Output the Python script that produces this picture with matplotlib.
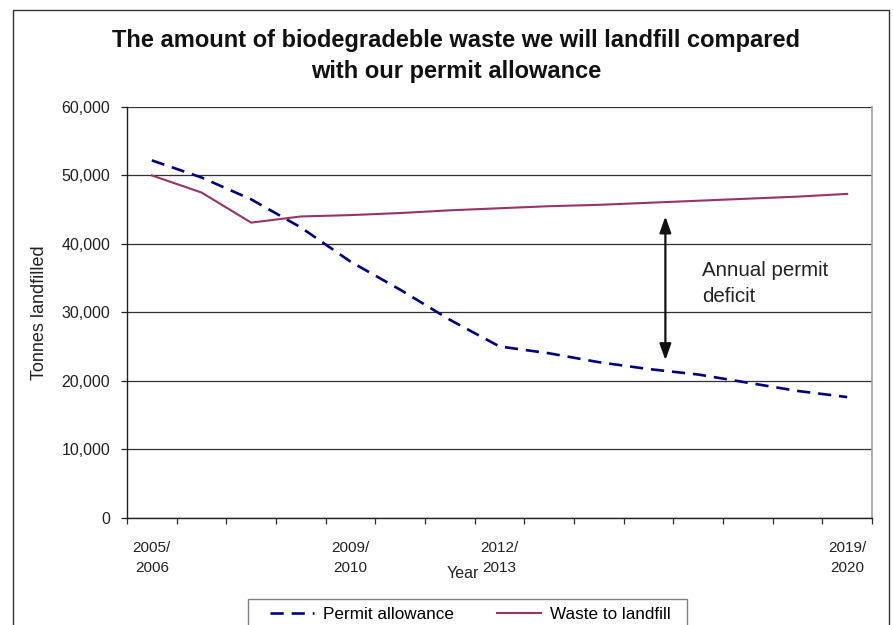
import matplotlib.pyplot as plt
from matplotlib.patches import Rectangle
from matplotlib.ticker import FuncFormatter

plt.rcParams['font.family'] = ['Liberation Sans', 'DejaVu Sans']

# yearly figures, 2005/06 .. 2019/20
years = ["2005/\n2006", "2006/\n2007", "2007/\n2008", "2008/\n2009", "2009/\n2010",
         "2010/\n2011", "2011/\n2012", "2012/\n2013", "2013/\n2014", "2014/\n2015",
         "2015/\n2016", "2016/\n2017", "2017/\n2018", "2018/\n2019", "2019/\n2020"]
labelled_years = [0, 4, 7, 14]

permit_allowance = [52200, 49700, 46500, 42400, 37400, 33300, 28900, 25000,
                    24000, 22700, 21700, 20900, 19700, 18500, 17600]
waste_to_landfill = [50000, 47500, 43100, 44000, 44200, 44500, 44900, 45200,
                     45500, 45700, 46000, 46300, 46600, 46900, 47300]

deficit_top = 44000
deficit_bottom = 23000

fig = plt.figure(figsize=(8.93, 6.25), dpi=100)
ax = fig.add_axes([127 / 893, 1 - 517.5 / 625, 745 / 893, 410.5 / 625])

x = list(range(len(years)))
ax.plot(x, permit_allowance, color="#000080", lw=1.9, linestyle=(0, (5, 3)),
        label="Permit allowance", zorder=3)
ax.plot(x, waste_to_landfill, color="#993366", lw=1.5,
        label="Waste to landfill", zorder=3)

ax.set_xlim(-0.5, len(years) - 0.5)
ax.set_ylim(0, 60000)
ax.set_yticks(range(0, 60001, 10000))
ax.yaxis.set_major_formatter(FuncFormatter(lambda v, p: f"{int(v):,}"))
ax.grid(axis="y", color="#303030", lw=0.9)
ax.set_axisbelow(True)

ax.set_xticks(labelled_years)
ax.set_xticklabels([years[i] for i in labelled_years], linespacing=1.5)
ax.set_xticks([i - 0.5 for i in range(len(years) + 1)], minor=True)
ax.tick_params(axis="x", which="major", length=0, pad=17, labelsize=11, colors="#222222")
ax.tick_params(axis="x", which="minor", length=4, width=0.9, color="#303030")
ax.tick_params(axis="y", length=4, width=0.9, pad=8, labelsize=11.5,
               colors="#222222")

for side in ["left", "bottom"]:
    ax.spines[side].set_color("#202020")
    ax.spines[side].set_linewidth(1.0)
ax.spines["top"].set_visible(False)
ax.spines["right"].set_color("#a0a0a0")
ax.spines["right"].set_linewidth(1.2)

# the gap between what we landfill and what the permit allows
ax.annotate("", xy=(10.34, deficit_top), xytext=(10.34, deficit_bottom),
            arrowprops=dict(arrowstyle="<|-|>,head_length=0.7,head_width=0.25",
                            color="#111111", lw=1.6,
                            mutation_scale=14, shrinkA=0, shrinkB=0))
ax.text(11.08, 37500, "Annual permit\ndeficit", fontsize=14.8, color="#222222",
        va="top", ha="left", linespacing=1.5)

fig.text(0.511, 1 - 56 / 625,
         "The amount of biodegradeble waste we will landfill compared\nwith our permit allowance",
         ha="center", va="center", fontsize=17, fontweight="bold",
         linespacing=1.4, color="#111111")
fig.text(40 / 893, 1 - 313 / 625, "Tonnes landfilled", rotation=90,
         ha="center", va="center", fontsize=13, color="#222222")
fig.text(463 / 893, 1 - 573 / 625, "Year", ha="center", va="center",
         fontsize=11.5, color="#222222")

# legend box runs off the bottom edge
fig.legend(loc="upper left", bbox_to_anchor=(270 / 893, 1 - 607 / 625),
           ncol=2, frameon=False, fontsize=12.3, handlelength=2.6,
           handletextpad=0.5, columnspacing=2.5,
           borderaxespad=0, borderpad=0)
fig.patches.append(Rectangle((248 / 893, -0.05), (687 - 248) / 893, 0.05 + 26 / 625,
                             transform=fig.transFigure, fill=False,
                             edgecolor="#808080", lw=1.0))

fig.patches.append(Rectangle((13 / 893, -0.1), (889 - 13) / 893, 1.1 - 10 / 625,
                             transform=fig.transFigure, fill=False,
                             edgecolor="#333333", lw=1.0))

fig.savefig("out.png", dpi=100)
